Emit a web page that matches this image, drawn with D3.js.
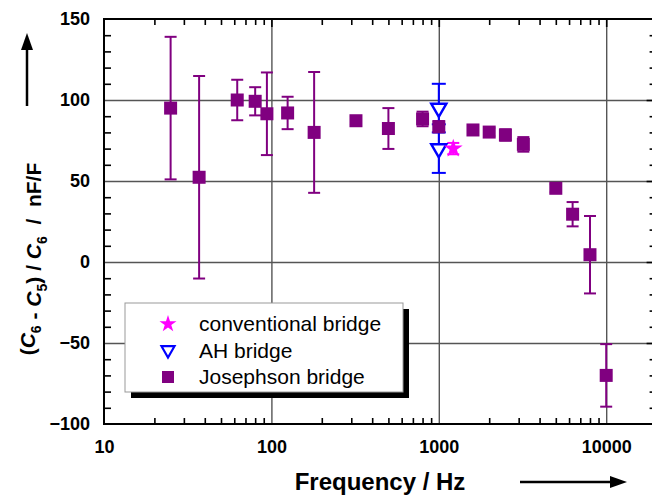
<!DOCTYPE html>
<html><head><meta charset="utf-8">
<script src="https://cdn.jsdelivr.net/npm/d3@7"></script>
<style>body{margin:0;background:#fff}svg{display:block}text{font-family:"Liberation Sans",Arial,sans-serif}</style>
</head><body><svg id="c" width="652" height="499"></svg>
<script>
// Josephson bridge
const josFreq = [25, 37, 62.5, 80, 94, 125, 180, 320, 500, 800, 1000, 1600, 2000, 2500, 3200, 5000, 6300, 8000, 10000];
const josVal  = [95, 52.3, 100, 99.2, 91.5, 92, 80, 87.2, 82.4, 88.3, 83.5, 81.5, 80.2, 78.4, 72.6, 45.5, 29.5, 4.5, -70];
const josErr  = [44, 62.5, 12.5, 8.7, 25.5, 10, 37.3, 2.5, 12.6, 4.5, 3.5, 2.5, 2.5, 3.5, 4.5, 2.5, 7.5, 23.9, 19.3];
// AH bridge
const ahFreq = [1000, 1000];
const ahVal  = [95, 70];
const ahErr  = [15, 15];
// conventional bridge
const convFreq = [1220];
const convVal  = [70];
const convErr  = [3.5];
// ticks
const xMajor = [10, 100, 1000, 10000];
const xGrid = [100, 1000, 10000];
const yMajor = [-100, -50, 0, 50, 100, 150];
const yGrid = [-50, 0, 50, 100];
const legendLabels = ["conventional bridge", "AH bridge", "Josephson bridge"];

const svg = d3.select("#c");
const x = d3.scaleLog().domain([10, 20000]).range([104, 104 + 167.4 * Math.log10(2000)]);
const y = d3.scaleLinear().domain([-100, 150]).range([424, 19]);
const X0 = x.range()[0], X1 = x.range()[1], Y0 = y.range()[0], Y1 = y.range()[1];
const W = X1 - X0, H = Y0 - Y1;
const purple = "#800080", blue = "#0000ff", magenta = "#ff00ff";

const xMinor = [];
[10, 100, 1000, 10000].forEach(d => { for (let k = 2; k <= 9; k++) if (d * k < 20000) xMinor.push(d * k); });
const yMinor = d3.range(-100, 151, 10).filter(v => v % 50 !== 0);

// grid
svg.append("g").attr("transform", `translate(0,${Y0})`)
  .call(d3.axisBottom(x).tickValues(xGrid).tickSize(-H).tickFormat(""))
  .call(g => { g.select(".domain").remove(); g.selectAll("line").attr("stroke", "#555").attr("stroke-width", 1.4); });
svg.append("g").attr("transform", `translate(${X0},0)`)
  .call(d3.axisLeft(y).tickValues(yGrid).tickSize(-W).tickFormat(""))
  .call(g => { g.select(".domain").remove(); g.selectAll("line").attr("stroke", "#555").attr("stroke-width", 1.4); });

// minor ticks
function styleTicks(g){ g.select(".domain").remove(); g.selectAll("line").attr("stroke", "#000").attr("stroke-width", 1.6); }
svg.append("g").attr("transform", `translate(0,${Y0})`).call(d3.axisBottom(x).tickValues(xMinor).tickSize(-6).tickFormat("")).call(styleTicks);
svg.append("g").attr("transform", `translate(0,${Y1})`).call(d3.axisTop(x).tickValues(xMinor).tickSize(-6).tickFormat("")).call(styleTicks);
svg.append("g").attr("transform", `translate(0,${Y1})`).call(d3.axisTop(x).tickValues(xGrid).tickSize(-8).tickFormat("")).call(styleTicks);
svg.append("g").attr("transform", `translate(${X0},0)`).call(d3.axisLeft(y).tickValues(yMinor).tickSize(-7).tickFormat("")).call(styleTicks);
svg.append("g").attr("transform", `translate(${X1},0)`).call(d3.axisRight(y).tickValues(yMinor).tickSize(-7).tickFormat("")).call(styleTicks);
svg.append("g").attr("transform", `translate(${X1},0)`).call(d3.axisRight(y).tickValues(yGrid).tickSize(-10).tickFormat("")).call(styleTicks);

// frame
svg.append("rect").attr("x", X0).attr("y", Y1).attr("width", W).attr("height", H)
  .attr("fill", "none").attr("stroke", "#000").attr("stroke-width", 2);

// tick labels
svg.append("g").attr("transform", `translate(0,${Y0})`)
  .call(d3.axisBottom(x).tickValues(xMajor).tickSize(0).tickPadding(16).tickFormat(d3.format("d")))
  .call(g => { g.select(".domain").remove(); g.selectAll("text").attr("font-size", 18).attr("font-weight", "bold").attr("fill", "#000").attr("font-family", "Liberation Sans, Arial, sans-serif"); });
svg.append("g").attr("transform", `translate(${X0},0)`)
  .call(d3.axisLeft(y).tickValues(yMajor).tickSize(0).tickPadding(14).tickFormat(d3.format("d")))
  .call(g => { g.select(".domain").remove(); g.selectAll("text").attr("font-size", 18).attr("font-weight", "bold").attr("fill", "#000").attr("font-family", "Liberation Sans, Arial, sans-serif"); });

// error bars helper
function errBars(freq, val, err, color, cap, sw) {
  const g = svg.append("g").attr("stroke", color).attr("stroke-width", sw);
  freq.forEach((f, i) => {
    const cx = x(f), t = y(val[i] + err[i]), b = y(val[i] - err[i]);
    g.append("line").attr("x1", cx).attr("x2", cx).attr("y1", t).attr("y2", b);
    g.append("line").attr("x1", cx - cap).attr("x2", cx + cap).attr("y1", t).attr("y2", t);
    g.append("line").attr("x1", cx - cap).attr("x2", cx + cap).attr("y1", b).attr("y2", b);
  });
}
errBars(josFreq, josVal, josErr, purple, 6, 2);
errBars(ahFreq, ahVal, ahErr, blue, 7, 2);
errBars(convFreq, convVal, convErr, magenta, 6, 2);

// Josephson squares
svg.append("g").selectAll("rect").data(josFreq).join("rect")
  .attr("x", (d) => x(d) - 6.5).attr("y", (d, i) => y(josVal[i]) - 6.5)
  .attr("width", 13).attr("height", 13).attr("fill", purple);

// AH open down triangles
const tri = "M-7.5,-4.3L7.5,-4.3L0,8.7Z";
svg.append("g").selectAll("path").data(ahFreq).join("path")
  .attr("transform", (d, i) => `translate(${x(d)},${y(ahVal[i])})`)
  .attr("d", tri).attr("fill", "#fff").attr("stroke", blue).attr("stroke-width", 2.5);

// conventional star
const star = d3.symbol(d3.symbolStar, 110)();
svg.append("g").selectAll("path").data(convFreq).join("path")
  .attr("transform", (d, i) => `translate(${x(d)},${y(convVal[i])})`)
  .attr("d", star).attr("fill", magenta);

// legend
const lg = svg.append("g");
lg.append("rect").attr("x", 131).attr("y", 309).attr("width", 278).attr("height", 89).attr("fill", "#000");
lg.append("rect").attr("x", 125).attr("y", 303).attr("width", 278).attr("height", 89).attr("fill", "#fff").attr("stroke", "#999").attr("stroke-width", 1);
const rowsY = [324, 351, 377];
lg.append("path").attr("transform", `translate(168,${rowsY[0]})`).attr("d", d3.symbol(d3.symbolStar, 90)()).attr("fill", magenta);
lg.append("path").attr("transform", `translate(168,${rowsY[1] - 1})`).attr("d", "M-6.5,-3.8L6.5,-3.8L0,7.5Z").attr("fill", "#fff").attr("stroke", blue).attr("stroke-width", 2.2);
lg.append("rect").attr("x", 162).attr("y", rowsY[2] - 6).attr("width", 12).attr("height", 12).attr("fill", purple);
legendLabels.forEach((t, i) => {
  lg.append("text").attr("x", 199).attr("y", rowsY[i] + 7).attr("font-size", 21).attr("fill", "#000").text(t);
});

// x label
svg.append("text").attr("x", 380).attr("y", 490).attr("text-anchor", "middle")
  .attr("font-size", 24).attr("font-weight", "bold").text("Frequency / Hz");
// arrows
svg.append("line").attr("x1", 520).attr("x2", 614).attr("y1", 482).attr("y2", 482).attr("stroke", "#000").attr("stroke-width", 2.5);
svg.append("path").attr("d", "M627,482L610,476L610,488Z").attr("fill", "#000");
svg.append("line").attr("x1", 27).attr("x2", 27).attr("y1", 106).attr("y2", 46).attr("stroke", "#000").attr("stroke-width", 2.5);
svg.append("path").attr("d", "M27,33L21,50L33,50Z").attr("fill", "#000");

// y label
const yl = svg.append("text").attr("transform", "translate(35,259) rotate(-90)")
  .attr("text-anchor", "middle").attr("font-size", 21).attr("font-weight", "bold").attr("xml:space", "preserve");
const parts = [["(", 0], ["C", 1], ["6", 2], [" - ", 0], ["C", 1], ["5", 2], [")", 3], [" / ", 0], ["C", 1], ["6", 2], ["  /  nF/F", 3]];
parts.forEach(([t, k]) => {
  const s = yl.append("tspan").text(t);
  if (k === 1) s.attr("font-style", "italic");
  if (k === 2) s.attr("font-size", 14).attr("dy", 6);
  if (k === 3) s.attr("dy", -6);
});
</script></body></html>
